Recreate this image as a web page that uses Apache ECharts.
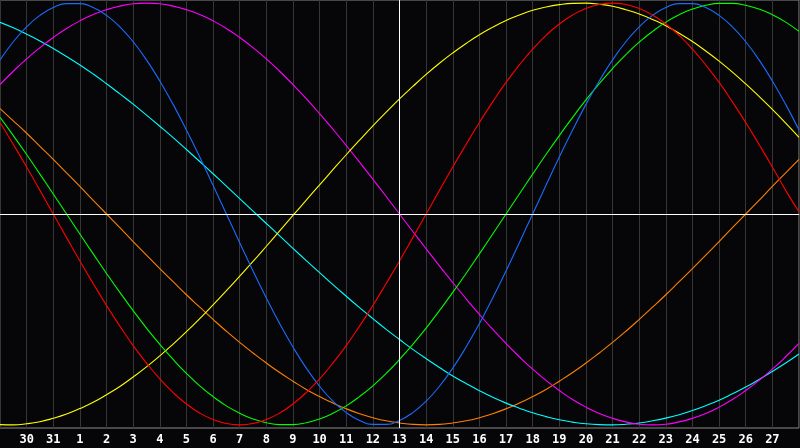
<!DOCTYPE html>
<html>
<head>
<meta charset="utf-8">
<script src="https://cdn.jsdelivr.net/npm/echarts@6/dist/echarts.min.js"></script>
<style>
html,body{margin:0;padding:0;background:#060609;}
#chart{width:800px;height:448px;}
</style>
</head>
<body>
<div id="chart"></div>
<script>
// Day labels (one per day); samples are read every half day
const days = ['29','30','31','1','2','3','4','5','6','7','8','9','10','11','12','13','14','15','16','17','18','19','20','21','22','23','24','25','26','27','28'];
const todayLabel = '13';

const redVals = [0.434,0.330,0.223,0.112,0,-0.112,-0.223,-0.330,-0.434,-0.532,-0.624,-0.707,-0.782,-0.847,-0.901,-0.944,-0.975,-0.994,-1,-0.994,-0.975,-0.944,-0.901,-0.847,-0.782,-0.707,-0.624,-0.532,-0.434,-0.330,-0.223,-0.112,0,0.112,0.223,0.330,0.434,0.532,0.624,0.707,0.782,0.847,0.901,0.944,0.975,0.994,1,0.994,0.975,0.944,0.901,0.847,0.782,0.707,0.624,0.532,0.434,0.330,0.223,0.112,0.01];
const greenVals = [0.458,0.372,0.282,0.189,0.095,0,-0.095,-0.189,-0.282,-0.372,-0.458,-0.541,-0.618,-0.690,-0.756,-0.815,-0.866,-0.910,-0.945,-0.972,-0.990,-0.999,-0.999,-0.990,-0.972,-0.945,-0.910,-0.866,-0.815,-0.756,-0.690,-0.618,-0.541,-0.458,-0.372,-0.282,-0.189,-0.095,0,0.095,0.189,0.282,0.372,0.458,0.541,0.618,0.690,0.756,0.815,0.866,0.910,0.945,0.972,0.990,0.999,0.999,0.990,0.972,0.945,0.910,0.866];
const blueVals = [0.731,0.817,0.888,0.942,0.979,0.998,0.998,0.979,0.942,0.888,0.817,0.731,0.631,0.520,0.398,0.270,0.136,0,-0.136,-0.270,-0.398,-0.520,-0.631,-0.731,-0.817,-0.888,-0.942,-0.979,-0.998,-0.998,-0.979,-0.942,-0.888,-0.817,-0.731,-0.631,-0.520,-0.398,-0.270,-0.136,0,0.136,0.270,0.398,0.520,0.631,0.731,0.817,0.888,0.942,0.979,0.998,0.998,0.979,0.942,0.888,0.817,0.731,0.631,0.520,0.398];
const yellowVals = [-0.999,-1.000,-0.995,-0.985,-0.969,-0.949,-0.923,-0.893,-0.857,-0.818,-0.773,-0.725,-0.673,-0.617,-0.558,-0.496,-0.431,-0.364,-0.295,-0.225,-0.153,-0.080,-0.007,0.066,0.138,0.210,0.281,0.350,0.418,0.483,0.546,0.605,0.662,0.715,0.764,0.809,0.850,0.886,0.918,0.944,0.966,0.982,0.993,0.999,1.000,0.995,0.985,0.969,0.949,0.923,0.893,0.857,0.818,0.773,0.725,0.673,0.617,0.558,0.496,0.431,0.364];
const magentaVals = [0.614,0.677,0.736,0.789,0.837,0.880,0.916,0.946,0.969,0.986,0.997,1,0.997,0.986,0.969,0.946,0.916,0.880,0.837,0.789,0.736,0.677,0.614,0.547,0.476,0.402,0.325,0.246,0.165,0.083,0,-0.083,-0.165,-0.246,-0.325,-0.402,-0.476,-0.547,-0.614,-0.677,-0.736,-0.789,-0.837,-0.880,-0.916,-0.946,-0.969,-0.986,-0.997,-1,-0.997,-0.986,-0.969,-0.946,-0.916,-0.880,-0.837,-0.789,-0.736,-0.677,-0.614];
const cyanVals = [0.909,0.883,0.853,0.821,0.785,0.747,0.707,0.664,0.618,0.570,0.521,0.469,0.416,0.362,0.306,0.249,0.191,0.132,0.073,0.014,-0.045,-0.104,-0.163,-0.221,-0.278,-0.335,-0.390,-0.444,-0.496,-0.547,-0.595,-0.642,-0.686,-0.728,-0.768,-0.804,-0.838,-0.869,-0.897,-0.921,-0.943,-0.961,-0.976,-0.987,-0.995,-0.999,-1,-0.997,-0.991,-0.981,-0.968,-0.952,-0.932,-0.909,-0.883,-0.853,-0.821,-0.785,-0.747,-0.707,-0.664];
const orangeVals = [0.5,0.442,0.383,0.321,0.259,0.195,0.131,0.065,0,-0.065,-0.131,-0.195,-0.259,-0.321,-0.383,-0.442,-0.5,-0.556,-0.609,-0.659,-0.707,-0.752,-0.793,-0.832,-0.866,-0.897,-0.924,-0.947,-0.966,-0.981,-0.991,-0.998,-1,-0.998,-0.991,-0.981,-0.966,-0.947,-0.924,-0.897,-0.866,-0.832,-0.793,-0.752,-0.707,-0.659,-0.609,-0.556,-0.5,-0.442,-0.383,-0.321,-0.259,-0.195,-0.131,-0.065,0,0.065,0.131,0.195,0.259];

// category table: one slot per half day; whole days carry the day label
const cats = [];
for (let d = 0; d < days.length; d++) {
  cats.push(days[d]);
  if (d < days.length - 1) cats.push('');
}

const seriesDefs = [
  {name:'Orange', data: orangeVals, color:'#ff8000'},
  {name:'Cyan', data: cyanVals, color:'#00ffff'},
  {name:'Magenta', data: magentaVals, color:'#ff00ff'},
  {name:'Yellow', data: yellowVals, color:'#ffff00'},
  {name:'Green', data: greenVals, color:'#00ff00'},
  {name:'Blue', data: blueVals, color:'#1a6cff'},
  {name:'Red', data: redVals, color:'#ff0000'}
];

const chart = echarts.init(document.getElementById('chart'), null, {renderer:'canvas'});
const series = seriesDefs.map(s => ({
  name: s.name, type:'line', data: s.data, smooth: true, showSymbol:false,
  lineStyle:{color:s.color, width:1.1}, itemStyle:{color:s.color}, z: 3
}));
series.push({
  type:'line', data:[], z:2,
  markLine:{
    silent:true, symbol:['none','none'], label:{show:false},
    lineStyle:{color:'#ffffff', width:1, type:'solid'},
    data:[{yAxis:0},{xAxis:todayLabel}]
  }
});

chart.setOption({
  backgroundColor:'#060609',
  animation:false,
  grid:{left:0, right:1, top:0, bottom:20, show:true, borderColor:'#8a8a8a', borderWidth:1, backgroundColor:'transparent'},
  xAxis:{
    type:'category', data: cats, boundaryGap:false,
    axisLine:{show:true, lineStyle:{color:'#8a8a8a'}},
    axisTick:{show:false},
    axisLabel:{
      interval:(i)=> i % 2 === 0 && i > 0 && i < cats.length - 1,
      color:'#ffffff', fontWeight:'bold', fontSize:12, fontFamily:'DejaVu Sans Mono', margin:6
    },
    splitLine:{show:true, interval:(i)=> i % 2 === 0, lineStyle:{color:'#363636', width:1}}
  },
  yAxis:{
    type:'value', min:-1.015, max:1.015,
    axisLine:{show:false}, axisTick:{show:false}, axisLabel:{show:false}, splitLine:{show:false}
  },
  series: series
});
</script>
</body>
</html>
